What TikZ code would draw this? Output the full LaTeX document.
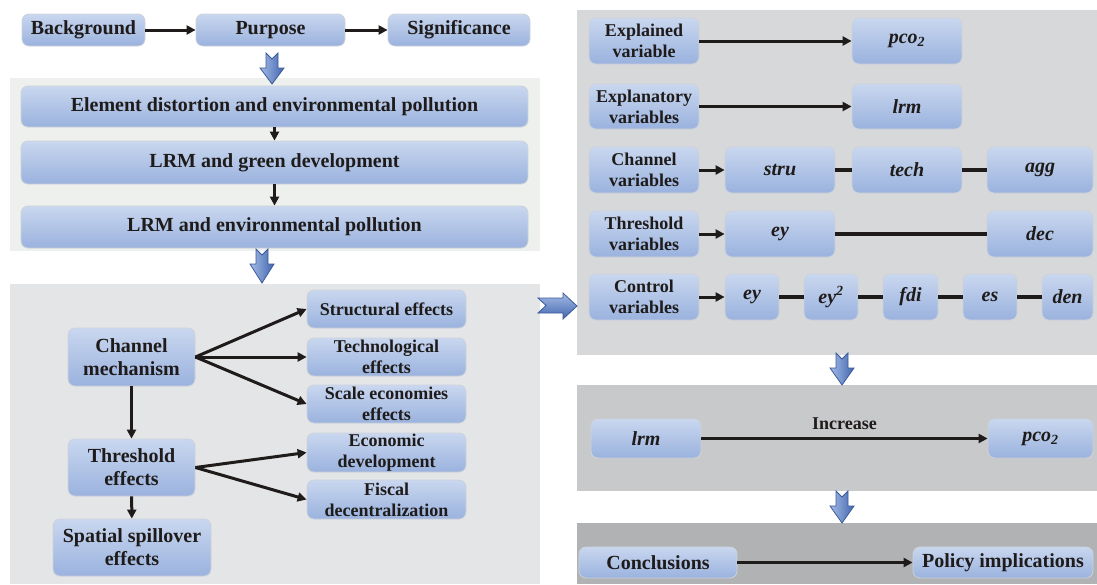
\documentclass[tikz,border=0pt]{standalone}
\usepackage{fontspec}
\setmainfont{Liberation Serif}
\usetikzlibrary{arrows.meta}
\definecolor{pan1}{HTML}{EEF0EE}
\definecolor{pan2}{HTML}{E3E5E7}
\definecolor{pan3}{HTML}{D7D8DA}
\definecolor{pan4}{HTML}{C8C9CB}
\definecolor{pan5}{HTML}{B1B2B4}
\definecolor{boxtop}{HTML}{C9D7EF}
\definecolor{boxbot}{HTML}{9AB2DE}
\definecolor{boxline}{HTML}{CDD2DA}
\definecolor{txt}{HTML}{1E1B1A}
\definecolor{blkl}{HTML}{A4BBE6}
\definecolor{blkr}{HTML}{4266AE}
\definecolor{blkline}{HTML}{3B5A9A}
\newcommand\blkdown[3]{%
  \shade[blk,left color=blkl,right color=blkr]
    ({#1-6},#2) -- (#1,{#2+6}) -- ({#1+6},#2) -- ({#1+6},{#2+15}) -- ({#1+12},{#2+15})
    -- (#1,#3) -- ({#1-12},{#2+15}) -- ({#1-6},{#2+15}) -- cycle;}
% style, name, x1, y1, x2, y2, text
\newcommand\bxnode[7]{%
  \pgfmathsetmacro\bxw{#5-#3}\pgfmathsetmacro\bxh{#6-#4}%
  \pgfmathsetmacro\bxcx{(#3+#5)/2}\pgfmathsetmacro\bxcy{(#4+#6)/2}%
  \node[#1,minimum width=\bxw pt,minimum height=\bxh pt] (#2) at (\bxcx,\bxcy) {#7};}
\begin{document}
\begin{tikzpicture}[x=1pt,y=-1pt,
  panel/.style={draw=none,inner sep=0pt},
  box/.style={draw=boxline,line width=0.8pt,rounded corners=7pt,top color=boxtop,bottom color=boxbot,
    inner sep=0pt,align=center,text=txt,font=\bfseries\fontsize{20}{23}\selectfont},
  sbox/.style={box,font=\bfseries\fontsize{18}{21}\selectfont},
  vbox/.style={box,font=\bfseries\itshape\fontsize{20}{23}\selectfont},
  conn/.style={draw=txt,line width=3pt,-{Triangle[length=9pt,width=9pt]}},
  link/.style={draw=txt,line width=3.5pt},
  blk/.style={draw=blkline,line width=0.8pt},
  lbl/.style={inner sep=0pt,text=txt,font=\bfseries\fontsize{18}{21}\selectfont}]
\useasboundingbox (0,0) rectangle (1097,584);
% panels
\bxnode{panel,fill=pan1}{P1}{10}{78}{540}{251}{}
\bxnode{panel,fill=pan2}{P2}{10}{284}{540}{584}{}
\bxnode{panel,fill=pan3}{R1}{577}{10}{1097}{355}{}
\bxnode{panel,fill=pan4}{R2}{577}{385}{1097}{491}{}
\bxnode{panel,fill=pan5}{R3}{577}{523}{1097}{584}{}
% top row
\bxnode{box}{bg}{22}{14}{145}{46}{Background}
\bxnode{box}{pur}{196}{14}{345}{46}{Purpose}
\bxnode{box}{sig}{388}{14}{530}{46}{Significance}
% panel 1
\bxnode{box}{e1}{21}{86}{528}{127}{Element distortion and environmental pollution}
\bxnode{box}{e2}{21}{141}{528}{184}{LRM and green development}
\bxnode{box}{e3}{21}{206}{528}{248}{LRM and environmental pollution}
% panel 2
\bxnode{box}{cm}{68}{328}{195}{386}{Channel\\mechanism}
\bxnode{box}{th}{68}{439}{195}{496}{Threshold\\effects}
\bxnode{box}{sp}{53}{519}{211}{576}{Spatial spillover\\effects}
\bxnode{sbox}{se}{307}{290}{466}{328}{Structural effects}
\bxnode{sbox}{te}{307}{338}{466}{376}{Technological\\effects}
\bxnode{sbox}{sc}{307}{385}{466}{423}{Scale economies\\effects}
\bxnode{sbox}{ed}{307}{433}{466}{472}{Economic\\development}
\bxnode{sbox}{fd}{307}{480}{466}{519}{Fiscal\\decentralization}
% right panel 1
\bxnode{sbox}{ev}{589}{18}{699}{64}{Explained\\variable}
\bxnode{vbox}{pco}{852}{18}{962}{64}{pco\textsubscript{2}}
\bxnode{sbox}{ex}{589}{84}{699}{129}{Explanatory\\variables}
\bxnode{vbox}{lrm}{852}{84}{962}{129}{lrm}
\bxnode{sbox}{cv}{589}{147}{699}{193}{Channel\\variables}
\bxnode{vbox}{stru}{725}{147}{835}{193}{stru}
\bxnode{vbox}{tech}{852}{147}{962}{193}{tech}
\bxnode{vbox}{agg}{987}{147}{1093}{193}{agg}
\bxnode{sbox}{tv}{589}{211}{699}{257}{Threshold\\variables}
\bxnode{vbox}{eyA}{725}{211}{835}{257}{ey}
\bxnode{vbox}{dec}{987}{211}{1093}{257}{dec}
\bxnode{sbox}{ctl}{589}{274}{699}{320}{Control\\variables}
\bxnode{vbox}{eyB}{725}{274}{779}{320}{ey}
\bxnode{vbox}{eysq}{804}{274}{858}{320}{ey\textsuperscript{2}}
\bxnode{vbox}{fdi}{883}{274}{938}{320}{fdi}
\bxnode{vbox}{es}{963}{274}{1017}{320}{es}
\bxnode{vbox}{den}{1042}{274}{1093}{320}{den}
% right panel 2
\bxnode{vbox}{lrmB}{591}{419}{701}{458}{lrm}
\bxnode{vbox}{pcoB}{988}{419}{1093}{458}{pco\textsubscript{2}}
% right panel 3
\bxnode{box}{con}{579}{547}{737}{578}{Conclusions}
\bxnode{box}{pol}{913}{547}{1093}{578}{Policy implications}
% connectors
\draw[conn] (bg) -- (pur);
\draw[conn] (pur) -- (sig);
\draw[conn] (e1) -- (e2);
\draw[conn] (e2) -- (e3);
\draw[conn] (cm.east) -- (se.west);
\draw[conn] (cm.east) -- (te.west);
\draw[conn] (cm.east) -- (sc.west);
\draw[conn] (th.east) -- (ed.west);
\draw[conn] (th.east) -- (fd.west);
\draw[conn] (cm) -- (th);
\draw[conn] (th) -- (sp);
\draw[conn] (ev) -- (pco);
\draw[conn] (ex) -- (lrm);
\draw[conn] (cv) -- (stru);
\draw[link] (stru) -- (tech);
\draw[link] (tech) -- (agg);
\draw[conn] (tv) -- (eyA);
\draw[link] (eyA) -- (dec);
\draw[conn] (ctl) -- (eyB);
\draw[link] (eyB) -- (eysq);
\draw[link] (eysq) -- (fdi);
\draw[link] (fdi) -- (es);
\draw[link] (es) -- (den);
\draw[conn] (lrmB) -- node[lbl,above=7pt] (inc) {Increase} (pcoB);
\draw[conn] (con) -- (pol);
% block arrows
\blkdown{272}{53}{84}
\blkdown{262}{249}{283}
\blkdown{842}{353}{385}
\blkdown{842}{491}{523}
\shade[blk,top color=blkl,bottom color=blkr]
  (538,298) -- (563,298) -- (563,293) -- (577,306) -- (563,319) -- (563,313) -- (538,313) -- (546,305.5) -- cycle;
\end{tikzpicture}
\end{document}
